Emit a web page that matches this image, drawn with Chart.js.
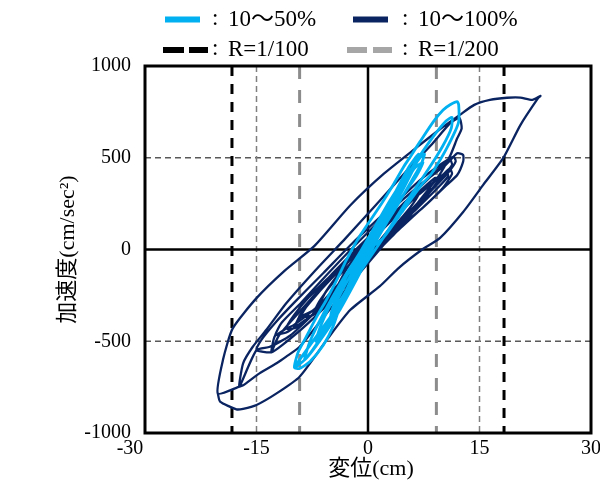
<!DOCTYPE html>
<html>
<head>
<meta charset="utf-8">
<script src="https://cdn.jsdelivr.net/npm/chart.js@4.4.3/dist/chart.umd.min.js"></script>
<style>
	html, body { margin: 0; padding: 0; background: #fff; }
	#wrap { width: 600px; height: 484px; }
</style>
</head>
<body>
<div id="wrap"><canvas id="chart"></canvas></div>
<script>
// Axis ticks / reference values
var xTicks = [-30, -15, 0, 15, 30];
var yTicks = [-1000, -500, 0, 500, 1000];
var gridX = [-15, 15];
var gridY = [-500, 500];
var driftR100 = [-18.3, 18.3];   // R=1/100
var driftR200 = [-9.2, 9.2];     // R=1/200

// 10～50% : displacement (cm), acceleration (cm/sec2)
var light1 = [[-2,-150],[-1,-60],[0.5,60],[2,170],[2.4,190],[1.8,130],[0.3,20],[-1.2,-90],[-2,-150]];
var light2 = [[-3.8,-330],[-3,-230],[-1.5,-100],[0.5,70],[2.5,230],[4,320],[4.2,300],[3,200],[1,40],[-1,-120],[-2.8,-250],[-3.8,-330]];
var light3 = [[-5,-360],[-4.2,-260],[-2.8,-140],[-1,-10],[1,130],[3,270],[4.5,360],[5,380],[4.7,340],[3.5,240],[1.8,120],[0,-20],[-2,-160],[-3.8,-290],[-5,-360]];
var light4 = [[-7,-500],[-6.2,-400],[-4.5,-260],[-2.5,-120],[0,40],[2.5,210],[5,380],[7,500],[7.6,520],[7.2,470],[5.8,370],[3.5,210],[1,50],[-1.5,-120],[-4,-300],[-6,-440],[-7,-500]];
var light5 = [[-8.5,-600],[-7.8,-500],[-6,-350],[-3.5,-170],[-0.5,20],[2.5,220],[5.5,420],[8.5,600],[10.5,700],[11.3,720],[11.2,660],[10,560],[8,430],[5,250],[2,60],[-1.5,-150],[-4.5,-360],[-7,-520],[-8.5,-600]];
var light6 = [[-9.9,-642],[-9.4,-560],[-8.3,-475],[-6.9,-366],[-5.6,-275],[-4.2,-166],[-2.9,-57],[-1,80],[1.5,230],[3.5,360],[4.8,451],[5.7,506],[7,588],[8.8,697],[10.1,760],[11.1,790],[12,806],[12.2,788],[12.2,697],[11.7,642],[10.6,552],[9.7,488],[8.4,406],[7.2,352],[4.5,200],[2,60],[-0.2,-10],[-1.5,-130],[-3.3,-257],[-4.7,-420],[-6,-520],[-7.8,-611],[-9.2,-648],[-9.9,-642]];
var light7 = [[-3,-250],[-2,-140],[0,20],[2,150],[4,290],[6.2,440],[7.4,475],[6.5,400],[4.8,300],[3,180],[1,40],[-1.2,-110],[-3,-250]];
var light8 = [[-4.5,-380],[-3.5,-270],[-2,-150],[0,10],[2,170],[4,320],[5.8,440],[6.2,450],[5.6,400],[4,280],[2,130],[0,-30],[-2,-190],[-3.6,-300],[-4.5,-380]];
var light9 = [[-6,-470],[-5.2,-380],[-3.8,-250],[-1.8,-100],[0.5,60],[3,260],[5.5,450],[6.8,520],[6.6,480],[5,350],[3,200],[0.8,20],[-1.5,-160],[-3.8,-330],[-6,-470]];

// 10～100%
var navy1 = [[-4,-190],[-3,-115],[-1.5,-25],[0.5,70],[2.5,150],[4,200],[4.3,190],[3.2,130],[1.5,45],[-0.5,-50],[-2.2,-130],[-3.6,-175],[-4,-190]];
var navy2 = [[-6.5,-300],[-5.6,-225],[-3.5,-110],[-1,10],[2,125],[4.5,230],[6.3,305],[6.8,300],[5.6,225],[3.2,110],[0.5,-20],[-2.5,-155],[-5,-255],[-6.5,-300]];
var navy3 = [[-9,-365],[-8,-295],[-6,-200],[-3,-75],[0.5,80],[4,215],[7,320],[9,390],[9.6,390],[8.6,330],[6,225],[3,85],[0,-60],[-3.5,-205],[-7,-325],[-9,-365]];
var navy4 = [[-11,-430],[-10,-360],[-8,-262],[-5,-140],[-1,25],[3,175],[7,305],[10,405],[11,440],[11.3,412],[10,332],[7.5,232],[4,112],[0,-52],[-4,-205],[-7.5,-335],[-10,-412],[-11,-430]];
var navy5 = [[-12.5,-470],[-11.6,-398],[-9,-290],[-6,-158],[-2,12],[2.5,192],[7,352],[10.5,462],[12,524],[12.8,515],[12.8,479],[12,406],[10.6,352],[8,252],[4,102],[0,-62],[-4,-222],[-8,-372],[-11,-452],[-12.5,-470]];
var navy6 = [[-15,-548],[-14.3,-490],[-12.5,-400],[-10,-292],[-6,-128],[-2,38],[3,228],[7,378],[10,470],[11.5,505],[11.8,480],[10.8,420],[8.5,320],[5,170],[1,0],[-3,-170],[-7,-338],[-10.5,-470],[-13.2,-530],[-15,-548]];
var navy7 = [[-17.3,-747],[-16.8,-620],[-15.5,-530],[-13.7,-439],[-11,-293],[-7,-110],[-3,62],[1,240],[5,420],[8.5,570],[11.1,690],[12.3,717],[12.6,660],[12,606],[11.1,515],[9.5,400],[6,220],[2,20],[-2,-170],[-6,-370],[-9.2,-530],[-11,-584],[-12.3,-620],[-14.6,-675],[-16.8,-740],[-17.3,-747]];
var navy8 = [[-20.2,-785],[-19.5,-600],[-18.2,-430],[-15,-265],[-11.2,-115],[-7.2,20],[-2.4,240],[2.1,412],[6.6,558],[9.5,650],[12.4,735],[14.3,788],[16.4,815],[18.7,827],[20.5,828],[22.1,815],[23.2,837],[22.9,826],[20.5,678],[18.2,499],[15.5,352],[12.8,204],[9.7,63],[7.2,-3],[4,-105],[1.6,-200],[-2.4,-330],[-5.5,-490],[-9.2,-693],[-12.3,-784],[-15,-847],[-16.8,-868],[-17.7,-871],[-19.9,-829],[-20.2,-785]];
var navy9 = [[-13,-560],[-12,-470],[-9,-330],[-5,-150],[0,60],[5,260],[9,420],[11,490],[11.3,460],[9.5,370],[6,200],[2,20],[-3,-200],[-8,-400],[-11.5,-520],[-13,-560]];
var navy10 = [[-10,-430],[-9,-350],[-7,-250],[-4,-120],[0,40],[4,200],[8,340],[10.5,420],[10.8,400],[9,320],[6,200],[2,40],[-2,-130],[-6,-300],[-9,-410],[-10,-430]];
var navy11 = [[-7.5,-360],[-6.5,-280],[-4.5,-170],[-1.5,-40],[2,110],[5.5,250],[8,340],[8.4,330],[7,260],[4.5,150],[1,0],[-2.5,-150],[-5.5,-290],[-7.5,-360]];

var lightBlue = '#00B0F0';
var navyBlue = '#0A2461';

function toPoints(loops) {
	var pts = [];
	loops.forEach(function (loop) {
		loop.forEach(function (p) { pts.push({ x: p[0], y: p[1] }); });
	});
	return pts;
}

var TICK_FONT = "'Liberation Serif', 'Times New Roman', serif";
var MIX_FONT = "'Liberation Serif', 'Noto Sans CJK JP', serif";

// reference lines under the loops, frame / legend / titles on top
var refLines = {
	id: 'refLines',
	beforeDatasetsDraw: function (chart) {
		var ctx = chart.ctx, a = chart.chartArea;
		var xs = chart.scales.x, ys = chart.scales.y;
		ctx.save();

		function vline(v, color, w, dash) {
			var px = xs.getPixelForValue(v);
			ctx.strokeStyle = color; ctx.lineWidth = w; ctx.setLineDash(dash);
			ctx.beginPath(); ctx.moveTo(px, a.top); ctx.lineTo(px, a.bottom); ctx.stroke();
		}
		function hline(v, color, w, dash) {
			var py = ys.getPixelForValue(v);
			ctx.strokeStyle = color; ctx.lineWidth = w; ctx.setLineDash(dash);
			ctx.beginPath(); ctx.moveTo(a.left, py); ctx.lineTo(a.right, py); ctx.stroke();
		}

		gridY.forEach(function (v) { hline(v, '#595959', 1.5, [6, 4]); });
		gridX.forEach(function (v) { vline(v, '#7f7f7f', 1.5, [6, 4]); });
		driftR200.forEach(function (v) { vline(v, '#8c8c8c', 3, [13, 11]); });
		driftR100.forEach(function (v) { vline(v, '#000', 3, [10, 8]); });
		hline(0, '#000', 2.5, []);
		vline(0, '#000', 2.5, []);
		ctx.restore();
	},
	afterDraw: function (chart) {
		var ctx = chart.ctx, a = chart.chartArea;
		ctx.save();

		// frame
		ctx.strokeStyle = '#000'; ctx.lineWidth = 3; ctx.setLineDash([]);
		ctx.strokeRect(a.left, a.top, a.right - a.left, a.bottom - a.top);

		// legend
		ctx.font = '23px ' + MIX_FONT;
		ctx.textBaseline = 'middle';
		ctx.textAlign = 'left';

		ctx.fillStyle = lightBlue; ctx.fillRect(165, 16.5, 35, 6);
		ctx.fillStyle = navyBlue; ctx.fillRect(353, 16.5, 35, 6);
		ctx.fillStyle = '#000';
		ctx.fillRect(163, 47, 21, 6); ctx.fillRect(189, 47, 19, 6);
		ctx.fillStyle = '#a6a6a6';
		ctx.fillRect(347, 47, 20, 6); ctx.fillRect(373, 47, 19, 6);

		ctx.fillStyle = '#000';
		[[212, 20, '10～50%'], [402, 20, '10～100%'], [212, 50, 'R=1/100'], [402, 50, 'R=1/200']].forEach(function (it) {
			ctx.fillText(':', it[0], it[1] - 1);
			ctx.fillText(it[2], it[0] + 16, it[1]);
		});

		// axis titles
		ctx.font = '22px ' + MIX_FONT;
		ctx.textAlign = 'center';
		ctx.fillText('変位(cm)', (a.left + a.right) / 2 + 3, 469);
		ctx.translate(68, (a.top + a.bottom) / 2);
		ctx.rotate(-Math.PI / 2);
		ctx.fillText('加速度(cm/sec²)', 0, 0);
		ctx.restore();
	}
};

new Chart(document.getElementById('chart'), {
	type: 'scatter',
	data: {
		datasets: [
			{
				label: '10～50%',
				data: toPoints([light1, light2, light3, light8, light4, light9, light5, light6, light7]),
				borderColor: lightBlue,
				borderWidth: 2.8,
				showLine: true,
				pointRadius: 0,
				tension: 0.2,
			},
			{
				label: '10～100%',
				data: toPoints([navy1, navy2, navy11, navy3, navy10, navy4, navy5, navy9, navy6, navy7, navy8]),
				borderColor: navyBlue,
				borderWidth: 2.3,
				showLine: true,
				pointRadius: 0,
				tension: 0.2,
			},
		],
	},
	options: {
		responsive: true,
		maintainAspectRatio: false,
		animation: false,
		layout: { padding: { top: 66, right: 9, left: 0, bottom: 0 } },
		plugins: {
			legend: { display: false },
			tooltip: { enabled: false },
		},
		scales: {
			x: {
				type: 'linear',
				min: xTicks[0],
				max: xTicks[xTicks.length - 1],
				afterBuildTicks: function (s) { s.ticks = xTicks.map(function (v) { return { value: v }; }); },
				afterFit: function (s) { s.height = 51; s.paddingLeft = 0; s.paddingRight = 0; },
				grid: { display: false, drawTicks: false },
				border: { display: false },
				ticks: {
					padding: 4,
					color: '#000',
					font: { family: TICK_FONT, size: 20 },
					callback: function (v) { return v === -30 ? '-30      ' : String(v); },
				},
			},
			y: {
				type: 'linear',
				min: yTicks[0],
				max: yTicks[yTicks.length - 1],
				afterBuildTicks: function (s) { s.ticks = yTicks.map(function (v) { return { value: v }; }); },
				afterFit: function (s) { s.width = 145; s.paddingTop = 0; s.paddingBottom = 0; },
				grid: { display: false, drawTicks: false },
				border: { display: false },
				ticks: {
					padding: 14,
					color: '#000',
					font: { family: TICK_FONT, size: 20 },
					callback: function (v) { return String(v); },
				},
			},
		},
	},
	plugins: [refLines],
});
</script>
</body>
</html>
